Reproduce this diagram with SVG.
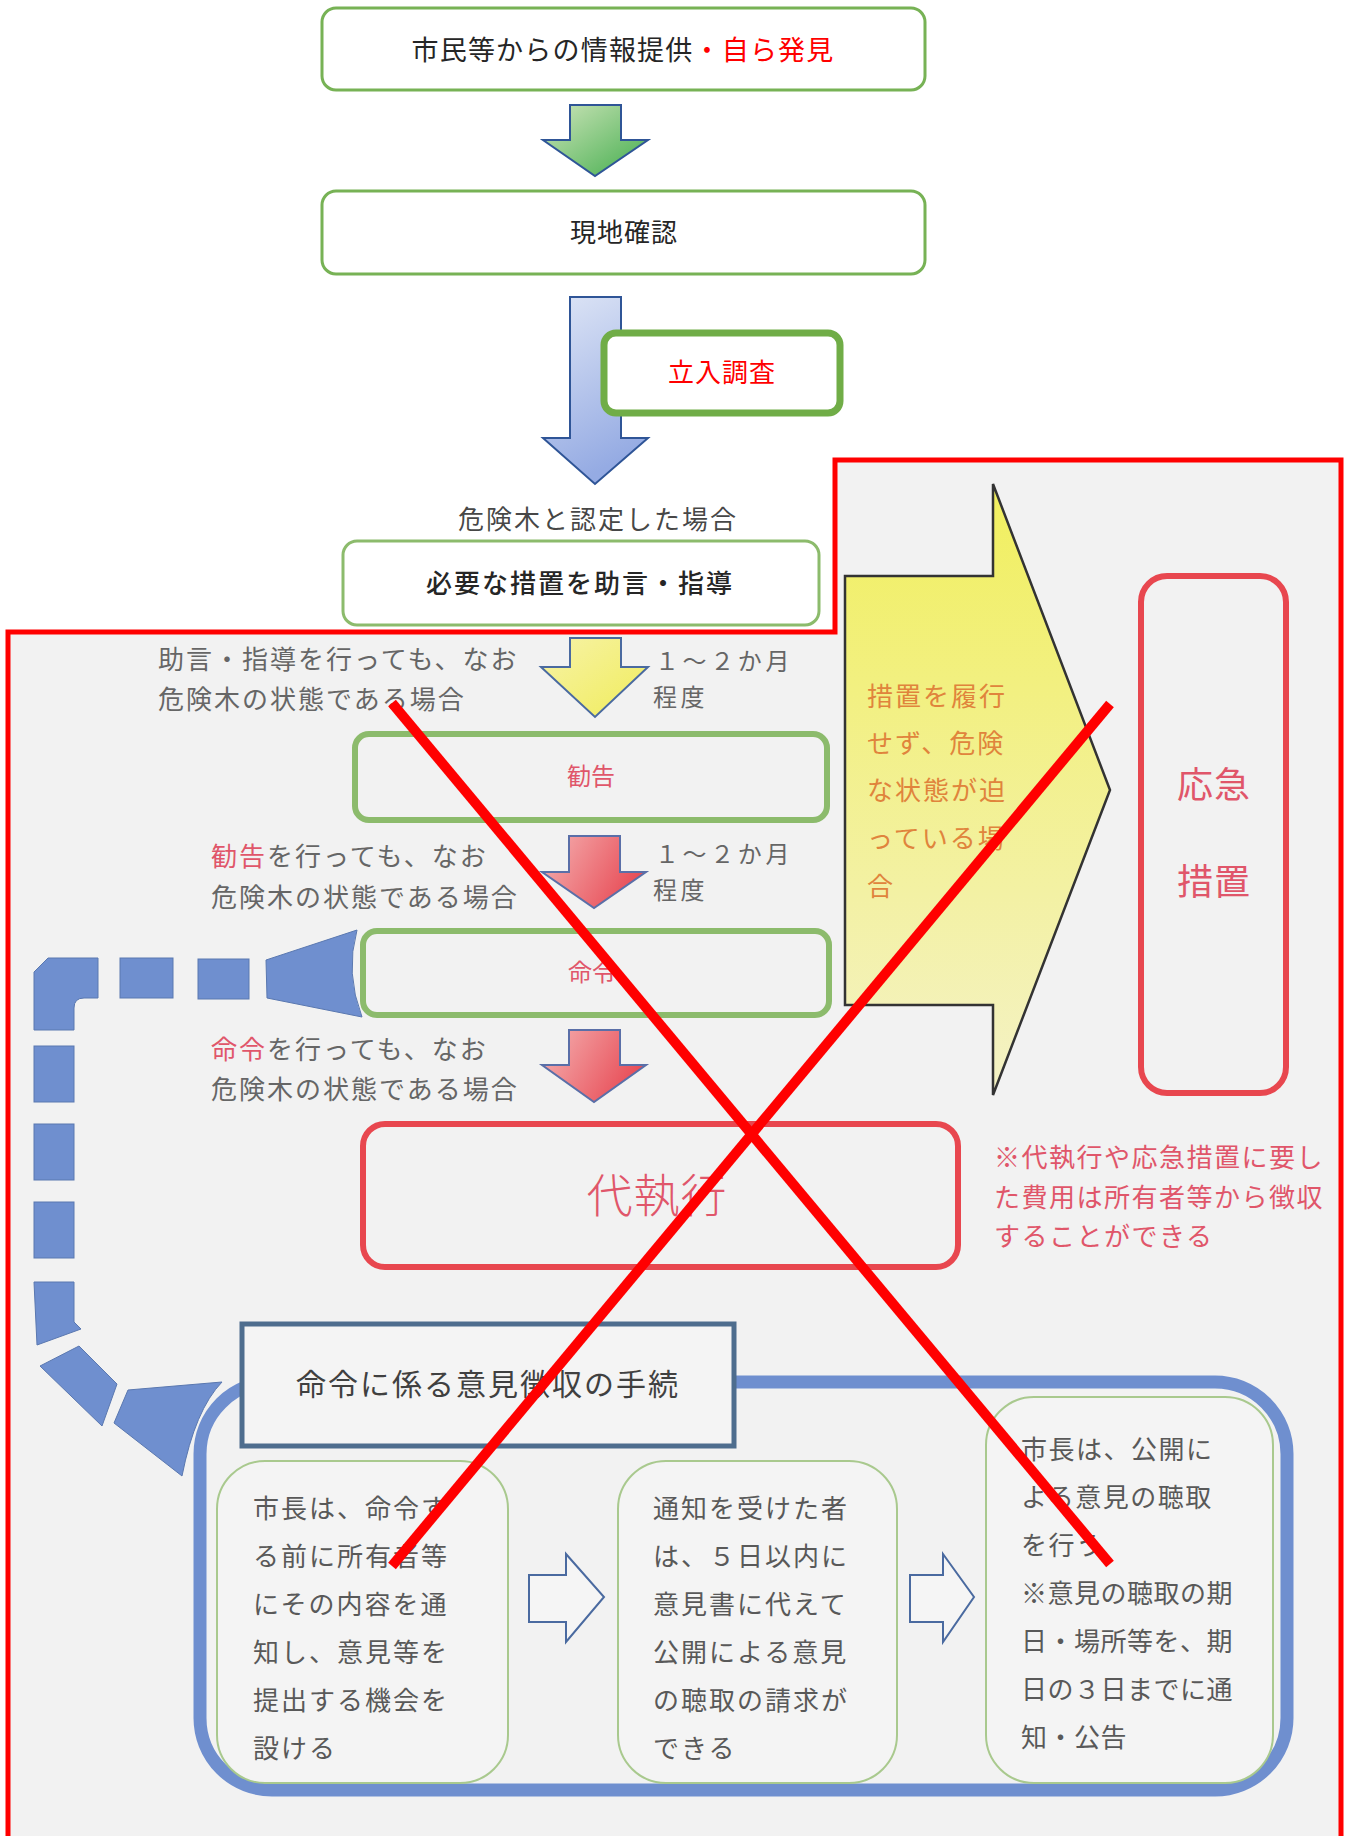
<svg xmlns="http://www.w3.org/2000/svg" width="1349" height="1836" viewBox="0 0 1349 1836">
<defs>
<style>
text{font-family:"Noto Sans CJK JP","Noto Sans",sans-serif;}
.f26{font-size:26px;letter-spacing:2px;}
.f24{font-size:24px;letter-spacing:3.6px;}
.dark{fill:#262626;}
.gray{fill:#595959;}
.lgray{fill:#666666;}
.red{fill:#ff0000;}
.pink{fill:#e0566a;}
.orange{fill:#e0843c;}
.gbox{fill:#ffffff;stroke:#77b255;stroke-width:3;}
.gbox2{fill:#f2f2f2;stroke:#8cbb6c;stroke-width:6;}
.rbox{fill:#f2f2f2;stroke:#e8474f;stroke-width:6;}
.ibox{fill:#f4f4f4;stroke:#a9c98e;stroke-width:2;}
.dash{fill:#6f8fcf;stroke:#5a78b0;stroke-width:1;}
.harrow{fill:#f5f5f5;stroke:#4a6aa0;stroke-width:2;}
.xline{stroke:#ff0000;stroke-width:10;stroke-linecap:butt;}
</style>
<linearGradient id="gGreen" x1="0" y1="0" x2="1" y2="1">
<stop offset="0" stop-color="#cfe5bb"/><stop offset="1" stop-color="#42ad4c"/>
</linearGradient>
<linearGradient id="gBlue" x1="0" y1="0" x2="0.3" y2="1">
<stop offset="0" stop-color="#dfe6f6"/><stop offset="1" stop-color="#95abe3"/>
</linearGradient>
<linearGradient id="gYellow" x1="0" y1="0" x2="1" y2="1">
<stop offset="0" stop-color="#f7f3a8"/><stop offset="1" stop-color="#f0ec5a"/>
</linearGradient>
<linearGradient id="gRed" x1="0" y1="0" x2="1" y2="0.4">
<stop offset="0" stop-color="#f5b4b4"/><stop offset="1" stop-color="#e84e58"/>
</linearGradient>
<linearGradient id="gBigYellow" x1="0" y1="0" x2="0" y2="1">
<stop offset="0" stop-color="#f1ef5e"/><stop offset="1" stop-color="#f4f2c6"/>
</linearGradient>
</defs>

<rect x="0" y="0" width="1349" height="1836" fill="#ffffff"/>

<g id="frame">
<path d="M8,632 L835,632 L835,460 L1341,460 L1341,1836 L8,1836 Z" fill="#f2f2f2"/>
<path d="M8,1836 L8,632 L835,632 L835,460 L1341,460 L1341,1836" fill="none" stroke="#ff0000" stroke-width="5"/>
</g>

<g id="connectors">
<polygon points="570,105 621,105 621,140 648,140 595,176 543,140 570,140" fill="url(#gGreen)" stroke="#2f5597" stroke-width="2"/>
<polygon points="570,297 621,297 621,438 648,438 595,484 543,438 570,438" fill="url(#gBlue)" stroke="#2f5597" stroke-width="2"/>
<polygon points="570,638 621,638 621,667 648,667 595,717 541,667 570,667" fill="url(#gYellow)" stroke="#4a6aa0" stroke-width="2"/>
<polygon points="569,836 620,836 620,872 646,872 594,908 542,872 569,872" fill="url(#gRed)" stroke="#5a6fa8" stroke-width="2"/>
<polygon points="569,1030 620,1030 620,1065 646,1065 594,1102 542,1065 569,1065" fill="url(#gRed)" stroke="#5a6fa8" stroke-width="2"/>
<polygon points="845,576 993,576 993,484 1110,790 993,1095 993,1005 845,1005" fill="url(#gBigYellow)" stroke="#333333" stroke-width="2.5"/>
<g id="dashed-arrow">
<path class="dash" d="M48,958 L98,958 L98,998 L84,998 Q74,998 74,1008 L74,1030 L34,1030 L34,972 Z"/>
<rect class="dash" x="120" y="958" width="53" height="40"/>
<rect class="dash" x="198" y="959" width="51" height="40"/>
<path class="dash" d="M266,960 L357,930 Q345,973 362,1017 L267,998 Z"/>
<rect class="dash" x="34" y="1046" width="40" height="56"/>
<rect class="dash" x="34" y="1124" width="40" height="56"/>
<rect class="dash" x="34" y="1202" width="40" height="56"/>
<path class="dash" d="M34,1282 L74,1282 L74,1322 L81,1329 L37,1345 Z"/>
<path class="dash" d="M40,1366 L79,1346 L117,1384 L102,1426 Z"/>
<path class="dash" d="M114,1423 L128,1390 L222,1382 Q195,1410 182,1476 Z"/>
</g>
<polygon class="harrow" points="529,1575 566,1575 566,1554 604,1597 566,1642 566,1622 529,1622"/>
<polygon class="harrow" points="910,1575 943,1575 943,1554 974,1597 943,1642 943,1622 910,1622"/>
</g>

<g id="n-info">
<rect class="gbox" x="322" y="8" width="603" height="82" rx="14"/>
<text class="dark" x="623" y="60" font-size="27" letter-spacing="1.2" text-anchor="middle">市民等からの情報提供<tspan class="red">・自ら発見</tspan></text>
</g>
<g id="n-genchi">
<rect class="gbox" x="322" y="191" width="603" height="83" rx="14"/>
<text class="dark" x="624" y="242" font-size="26" letter-spacing="1" text-anchor="middle">現地確認</text>
</g>
<g id="n-tachiiri">
<rect x="604" y="333" width="236" height="80" rx="12" fill="#ffffff" stroke="#70ad47" stroke-width="7"/>
<text class="red" x="722" y="382" font-size="26" letter-spacing="1" text-anchor="middle">立入調査</text>
</g>
<g id="n-jogen">
<text class="dark" x="598" y="529" font-size="26" letter-spacing="2" text-anchor="middle" fill-opacity="0.85">危険木と認定した場合</text>
<rect x="343" y="541" width="476" height="84" rx="14" fill="#ffffff" stroke="#8cbb6c" stroke-width="3"/>
<text class="dark" x="580" y="593" font-size="26" font-weight="500" letter-spacing="2" text-anchor="middle">必要な措置を助言・指導</text>
</g>

<g id="l-jogen">
<text class="lgray f26" x="158" y="669">助言・指導を行っても、なお</text>
<text class="lgray f26" x="158" y="709">危険木の状態である場合</text>
<text class="lgray f24" x="655" y="670">１～２か月</text>
<text class="lgray f24" x="653" y="706">程度</text>
</g>
<g id="n-kankoku">
<rect class="gbox2" x="355" y="734" width="472" height="86" rx="14"/>
<text class="pink" x="591" y="785" font-size="24" text-anchor="middle">勧告</text>
</g>
<g id="l-kankoku">
<text class="lgray f26" x="211" y="866"><tspan class="pink">勧告</tspan>を行っても、なお</text>
<text class="lgray f26" x="211" y="907">危険木の状態である場合</text>
<text class="lgray f24" x="655" y="863">１～２か月</text>
<text class="lgray f24" x="653" y="899">程度</text>
</g>
<g id="n-meirei">
<rect class="gbox2" x="363" y="931" width="466" height="84" rx="14"/>
<text class="pink" x="592" y="981" font-size="24" text-anchor="middle">命令</text>
</g>
<g id="l-meirei">
<text class="lgray f26" x="211" y="1059"><tspan class="pink">命令</tspan>を行っても、なお</text>
<text class="lgray f26" x="211" y="1099">危険木の状態である場合</text>
</g>
<g id="n-daishikkou">
<rect class="rbox" x="363" y="1124" width="595" height="143" rx="22"/>
<text class="pink" x="657" y="1212" font-size="46" font-weight="300" letter-spacing="1" text-anchor="middle">代執行</text>
</g>
<g id="l-note">
<text class="pink" x="994" y="1167" font-size="26" letter-spacing="1.5">※代執行や応急措置に要し</text>
<text class="pink" x="994" y="1207" font-size="26" letter-spacing="1.5">た費用は所有者等から徴収</text>
<text class="pink" x="994" y="1246" font-size="26" letter-spacing="1.5">することができる</text>
</g>
<g id="l-kinkyu">
<text class="orange f26" x="867" y="706">措置を履行</text>
<text class="orange f26" x="867" y="753">せず、危険</text>
<text class="orange f26" x="867" y="800">な状態が迫</text>
<text class="orange f26" x="867" y="848">っている場</text>
<text class="orange f26" x="867" y="896">合</text>
</g>
<g id="n-oukyu">
<rect class="rbox" x="1141" y="576" width="145" height="517" rx="26"/>
<text class="pink" x="1214" y="798" font-size="36" letter-spacing="1" text-anchor="middle">応急</text>
<text class="pink" x="1214" y="895" font-size="36" letter-spacing="1" text-anchor="middle">措置</text>
</g>

<g id="n-procedure">
<rect x="200" y="1382" width="1087" height="408" rx="72" fill="none" stroke="#6f8fcf" stroke-width="13"/>
<rect x="242" y="1324" width="492" height="122" fill="#f4f4f4" stroke="#4e6d8e" stroke-width="5"/>
<text x="488" y="1395" font-size="30" letter-spacing="2" text-anchor="middle" fill="#404040">命令に係る意見徴収の手続</text>
</g>
<g id="n-step1">
<rect class="ibox" x="217" y="1461" width="291" height="322" rx="48"/>
<text class="gray f26" x="253" y="1518">市長は、命令す</text>
<text class="gray f26" x="253" y="1566">る前に所有者等</text>
<text class="gray f26" x="253" y="1614">にその内容を通</text>
<text class="gray f26" x="253" y="1662">知し、意見等を</text>
<text class="gray f26" x="253" y="1710">提出する機会を</text>
<text class="gray f26" x="253" y="1758">設ける</text>
</g>
<g id="n-step2">
<rect class="ibox" x="618" y="1461" width="279" height="322" rx="48"/>
<text class="gray f26" x="653" y="1518">通知を受けた者</text>
<text class="gray f26" x="653" y="1566">は、５日以内に</text>
<text class="gray f26" x="653" y="1614">意見書に代えて</text>
<text class="gray f26" x="653" y="1662">公開による意見</text>
<text class="gray f26" x="653" y="1710">の聴取の請求が</text>
<text class="gray f26" x="653" y="1758">できる</text>
</g>
<g id="n-step3">
<rect class="ibox" x="986" y="1397" width="287" height="386" rx="48"/>
<text class="gray" x="1021" y="1459" font-size="26" letter-spacing="1.5">市長は、公開に</text>
<text class="gray" x="1021" y="1507" font-size="26" letter-spacing="1.5">よる意見の聴取</text>
<text class="gray" x="1021" y="1555" font-size="26" letter-spacing="1.5">を行う</text>
<text class="gray" x="1021" y="1603" font-size="26" letter-spacing="0.5">※意見の聴取の期</text>
<text class="gray" x="1021" y="1651" font-size="26" letter-spacing="0.5">日・場所等を、期</text>
<text class="gray" x="1021" y="1699" font-size="26" letter-spacing="0.5">日の３日までに通</text>
<text class="gray" x="1021" y="1747" font-size="26" letter-spacing="0.5">知・公告</text>
</g>

<g id="cross">
<line class="xline" x1="392" y1="703" x2="1110" y2="1564"/>
<line class="xline" x1="1110" y1="704" x2="392" y2="1566"/>
</g>
</svg>
